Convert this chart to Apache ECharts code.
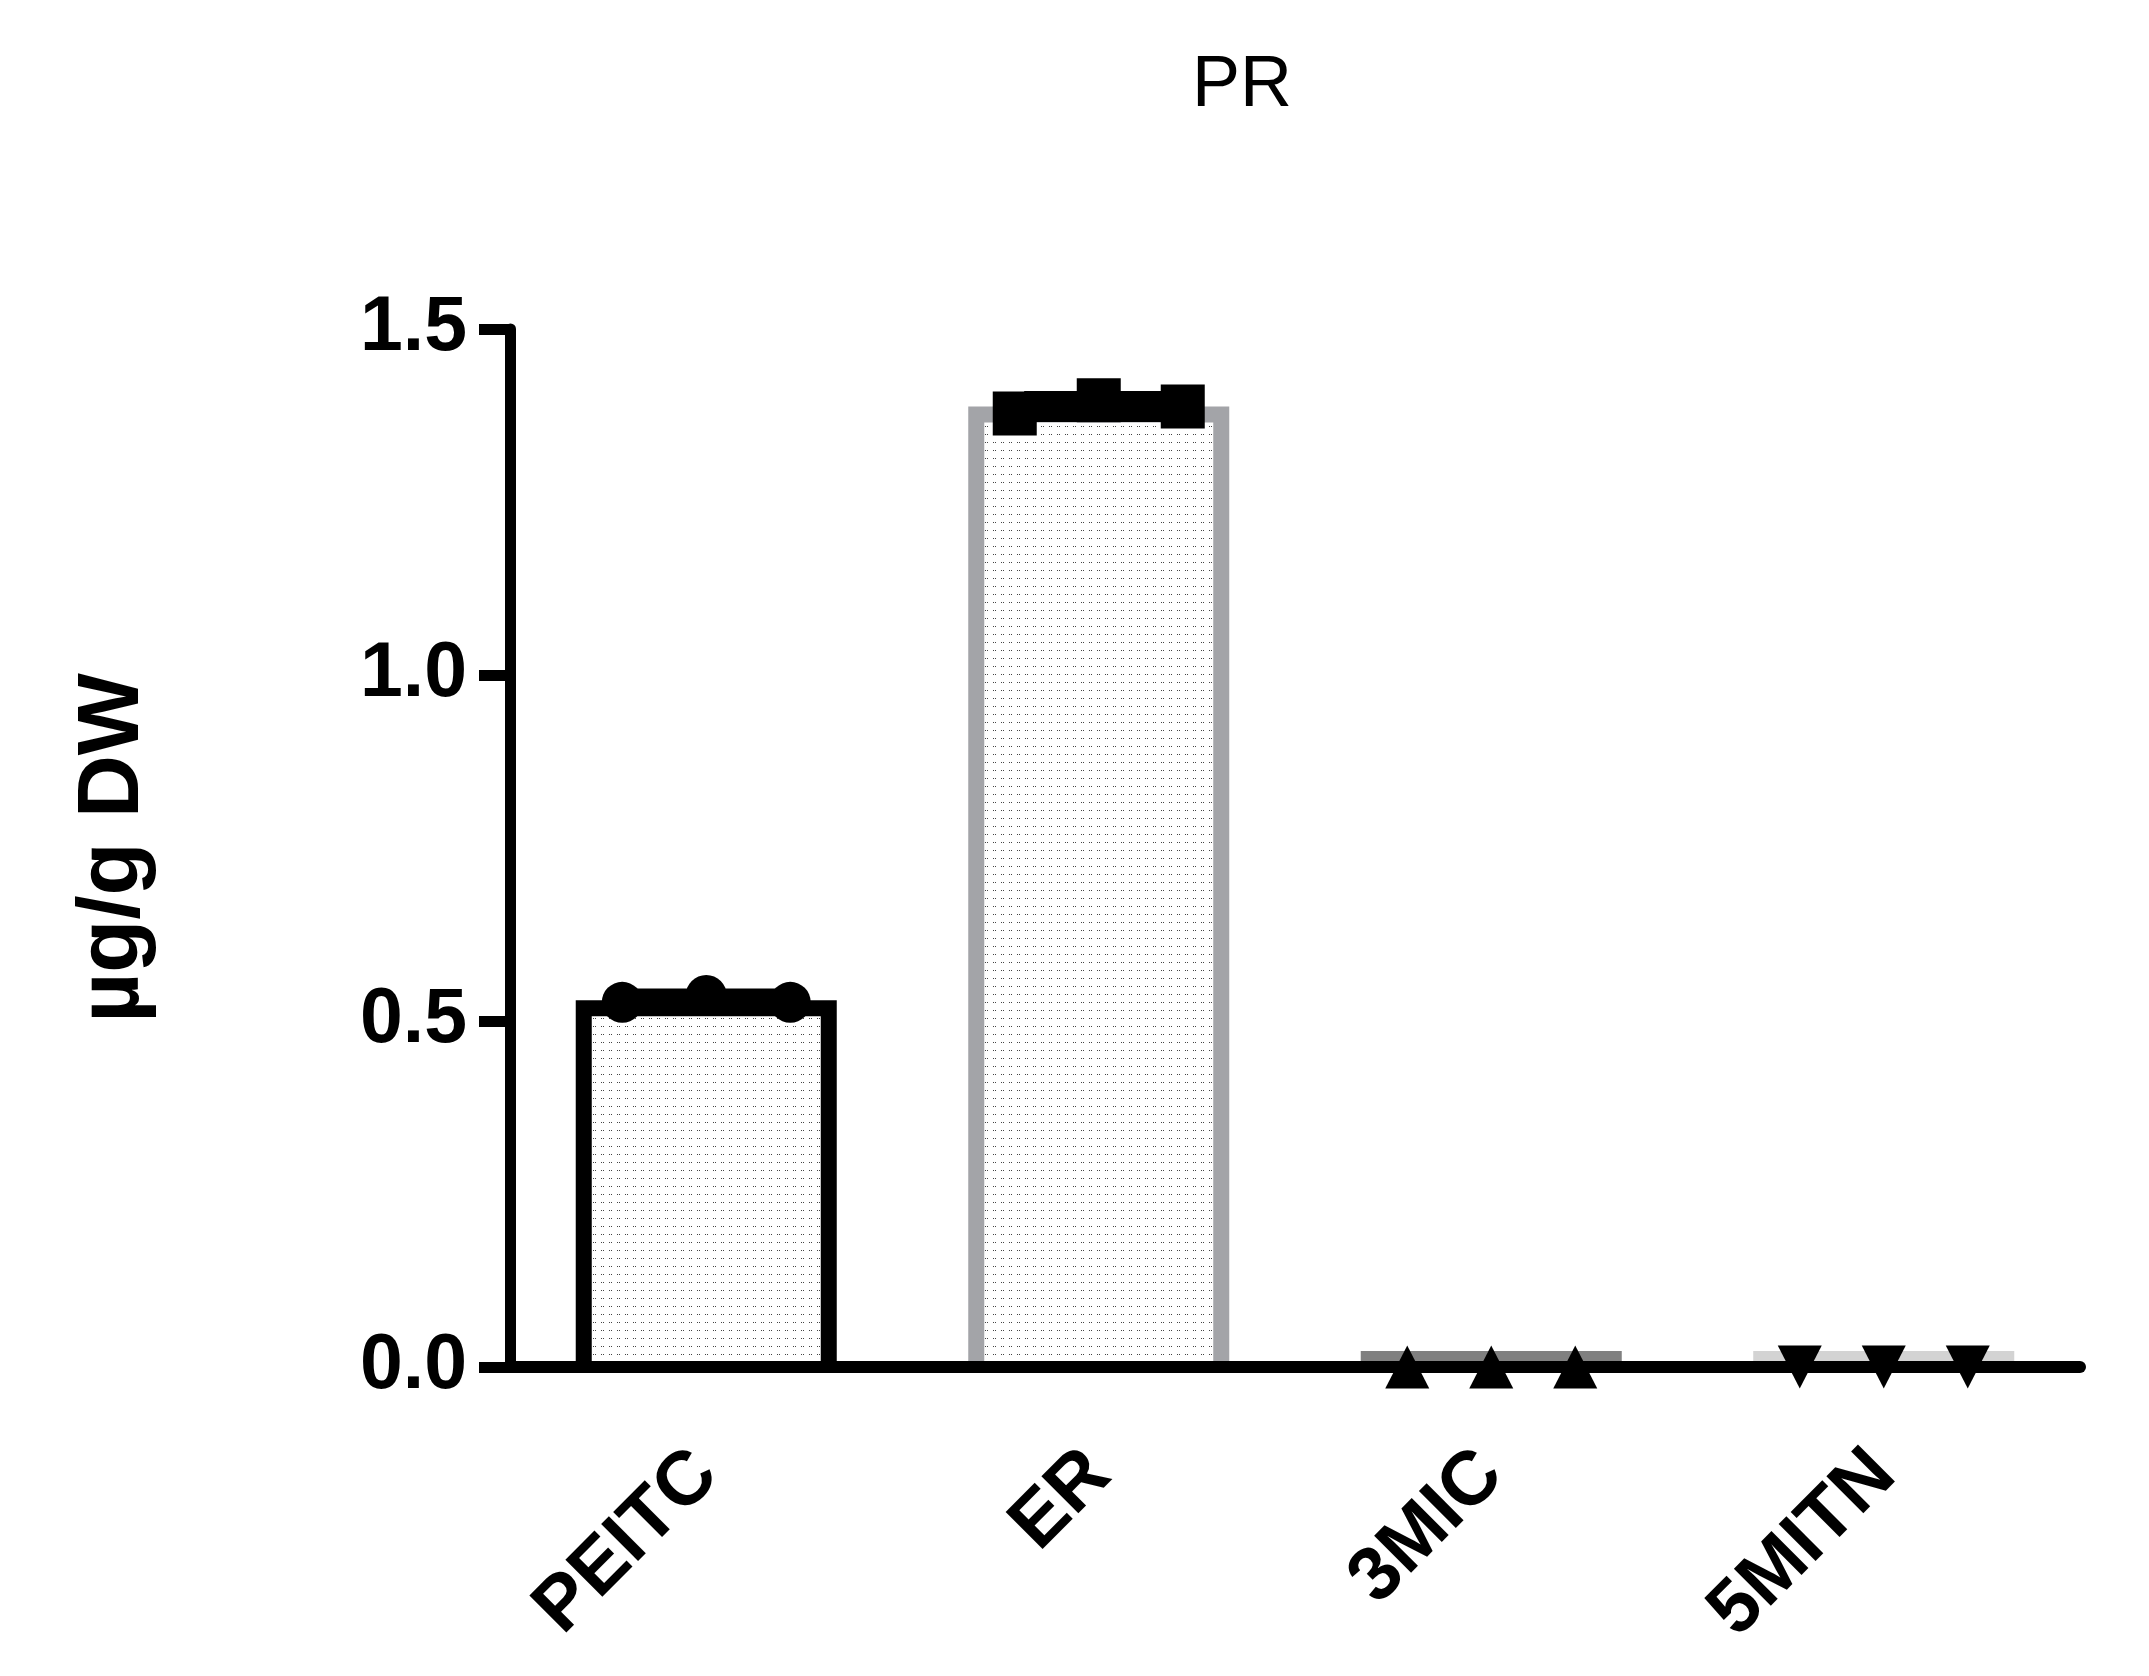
<!DOCTYPE html>
<html>
<head>
<meta charset="utf-8">
<script src="https://cdn.jsdelivr.net/npm/echarts@6/dist/echarts.min.js"></script>
<style>
html,body{margin:0;padding:0;background:#fff;}
#chart{width:2149px;height:1676px;}
</style>
</head>
<body>
<div id="chart"></div>
<script>
// ---- data ----
const categories = ['PEITC', 'ER', '3MIC', '5MITN'];
const peitcPoints = [0.527, 0.537, 0.527];
const erPoints = [1.378, 1.397, 1.388];
const mic3Points = [0.0, 0.0, 0.0];
const mitn5Points = [0.0, 0.0, 0.0];
const barMeans = [0.530, 1.388, 0.0, 0.0];
const barSDs = [0.009, 0.0145, 0.0, 0.0];
const yTicks = [0, 0.5, 1.0, 1.5];
const titleText = 'PR';
const yAxisTitle = 'µg/g DW';

// ---- styles ----
const FONT = '"Liberation Sans", Arial, sans-serif';
const barBorderColors = ['#000000', '#a3a4a8', '#808080', '#d3d3d3'];
const barFillPatterned = [true, true, false, false];
const BORDER = 16;
const BAR_RATIO = 0.665;
const jitter = [-84, 0, 84];
const symbols = [
  {symbol: 'circle', size: 41, rotate: 0},
  {symbol: 'rect', size: 44, rotate: 0},
  {symbol: 'triangle', size: [44, 43], rotate: 0},
  {symbol: 'triangle', size: [44, 43], rotate: 180}
];
const pointSets = [peitcPoints, erPoints, mic3Points, mitn5Points];

// dotted fill pattern
const pat = document.createElement('canvas');
pat.width = 8; pat.height = 8;
const pctx = pat.getContext('2d');
pctx.fillStyle = '#ffffff'; pctx.fillRect(0, 0, 8, 8);
pctx.fillStyle = '#444444';
pctx.fillRect(1, 2, 1, 1);
pctx.fillRect(3, 2, 1, 1);
const dotPattern = {image: pat, repeat: 'repeat'};

const chart = echarts.init(document.getElementById('chart'), null, {renderer: 'canvas'});

const barSeries = {
  type: 'custom',
  z: 1,
  data: barMeans.map((m, i) => [i, m]),
  renderItem: function (params, api) {
    const i = api.value(0);
    const top = api.coord([i, api.value(1)]);
    const base = api.coord([i, 0]);
    const w = api.size([1, 0])[0] * BAR_RATIO;
    const h = Math.max(base[1] - top[1], BORDER);
    const x0 = top[0] - w / 2;
    const y0 = base[1] - h;
    const children = [{
      type: 'rect',
      shape: {x: x0, y: y0, width: w, height: h},
      style: {fill: barBorderColors[i]}
    }];
    if (h > BORDER * 2) {
      children.push({
        type: 'rect',
        shape: {x: x0 + BORDER, y: y0 + BORDER, width: w - 2 * BORDER, height: h - BORDER},
        style: {fill: barFillPatterned[i] ? dotPattern : barBorderColors[i]}
      });
    }
    return {type: 'group', children: children};
  }
};

const errSeries = {
  type: 'custom',
  z: 4,
  data: barMeans.map((m, i) => [i, m, barSDs[i]]),
  renderItem: function (params, api) {
    const i = api.value(0), m = api.value(1), s = api.value(2);
    const c = api.coord([i, m]);
    const hi = api.coord([i, m + s]);
    const lo = api.coord([i, m - s]);
    const hw = api.size([1, 0])[0] * 0.19;
    const st = {stroke: '#000', lineWidth: 11, fill: null};
    return {type: 'group', children: [
      {type: 'line', shape: {x1: c[0], y1: hi[1], x2: c[0], y2: lo[1]}, style: st},
      {type: 'line', shape: {x1: c[0] - hw, y1: hi[1], x2: c[0] + hw, y2: hi[1]}, style: st},
      {type: 'line', shape: {x1: c[0] - hw, y1: lo[1], x2: c[0] + hw, y2: lo[1]}, style: st},
      {type: 'line', shape: {x1: c[0] - hw, y1: c[1], x2: c[0] + hw, y2: c[1]}, style: st}
    ]};
  }
};

const pointSeries = pointSets.map((pts, ci) => ({
  type: 'scatter',
  z: 6,
  symbol: symbols[ci].symbol,
  symbolSize: symbols[ci].size,
  symbolRotate: symbols[ci].rotate,
  itemStyle: {color: '#000', opacity: 1},
  emphasis: {disabled: true},
  data: pts.map((v, k) => ({value: [ci, v], symbolOffset: [jitter[k], 0]}))
}));

chart.setOption({
  animation: false,
  backgroundColor: '#ffffff',
  title: {
    text: titleText,
    left: 1237,
    textAlign: 'center',
    top: 45,
    textStyle: {fontFamily: FONT, fontSize: 72, fontWeight: 'normal', color: '#000'}
  },
  grid: {left: 510, right: 69, top: 329, bottom: 309, containLabel: false, outerBoundsMode: 'none'},
  xAxis: {
    type: 'category',
    data: categories,
    z: 3,
    boundaryGap: true,
    axisLine: {lineStyle: {color: '#000', width: 12}},
    axisTick: {alignWithLabel: true, length: 31, lineStyle: {color: '#000', width: 11}},
    axisLabel: {
      rotate: 45,
      margin: 96,
      interval: 0,
      color: '#000',
      fontFamily: FONT,
      fontSize: 76,
      fontWeight: 'bold'
    },
    splitLine: {show: false}
  },
  yAxis: {
    type: 'value',
    min: yTicks[0],
    max: yTicks[yTicks.length - 1],
    interval: 0.5,
    z: 3,
    name: yAxisTitle,
    nameLocation: 'middle',
    nameGap: 352,
    nameTextStyle: {fontFamily: FONT, fontSize: 87, fontWeight: 'bold', color: '#000'},
    axisLine: {show: true, lineStyle: {color: '#000', width: 11}},
    axisTick: {show: true, length: 31, lineStyle: {color: '#000', width: 11}},
    axisLabel: {
      margin: 43,
      color: '#000',
      fontFamily: FONT,
      fontSize: 77,
      fontWeight: 'bold',
      formatter: v => v.toFixed(1)
    },
    splitLine: {show: false}
  },
  series: [barSeries, errSeries].concat(pointSeries)
});
</script>
</body>
</html>
